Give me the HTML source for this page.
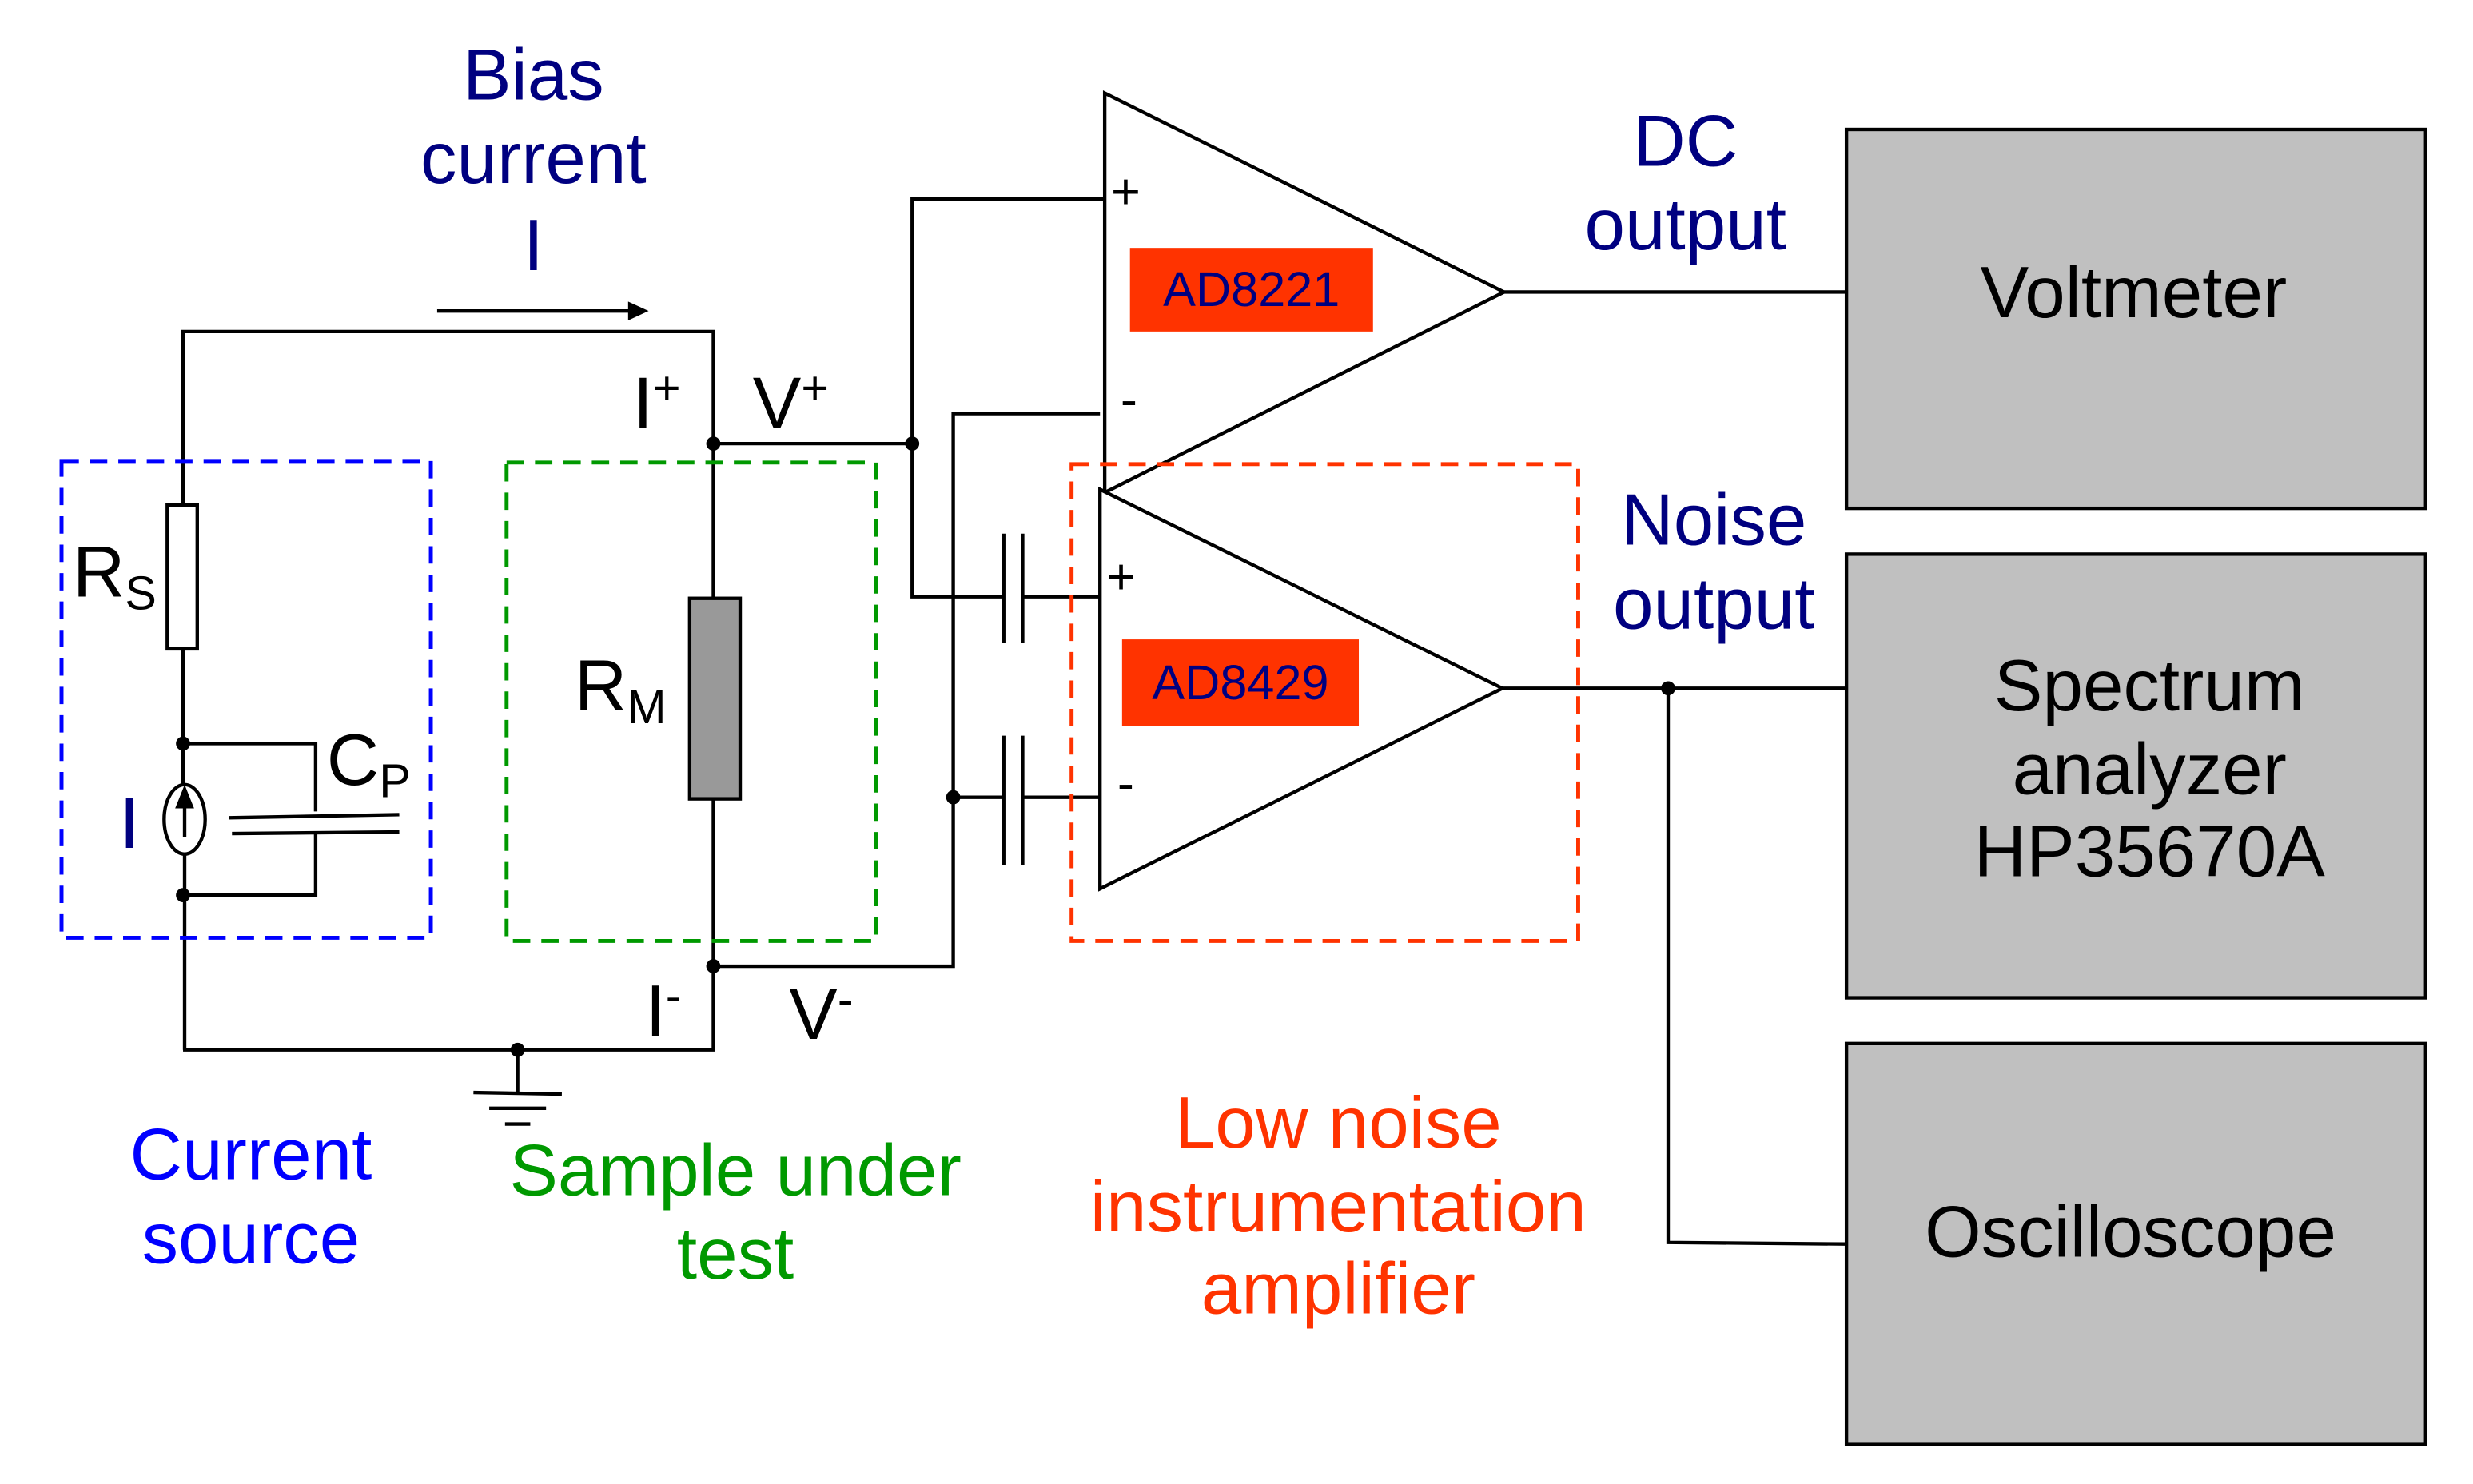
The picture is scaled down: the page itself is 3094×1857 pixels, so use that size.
<!DOCTYPE html>
<html><head><meta charset="utf-8"><style>
html,body{margin:0;padding:0;background:#fff;}
svg{display:block;}
text{font-family:"Liberation Sans",sans-serif;}
</style></head><body>
<svg width="3094" height="1857" viewBox="0 0 1567 940" preserveAspectRatio="none" xmlns="http://www.w3.org/2000/svg">
<g fill="none" stroke="#000" stroke-width="2.2">
<line x1="277" y1="197" x2="400" y2="197"/>
<polyline points="116,320 116,210 452,210 452,379"/>
<rect x="106" y="320" width="19" height="91" fill="#fff"/>
<line x1="116" y1="411" x2="116" y2="497"/>
<ellipse cx="117" cy="519" rx="13" ry="22"/>
<line x1="117" y1="541" x2="117" y2="665"/>
<line x1="117" y1="530" x2="117" y2="504"/>
<polyline points="116,471 200,471 200,514"/>
<line x1="145" y1="518" x2="253" y2="516"/>
<line x1="147" y1="528" x2="253" y2="527"/>
<polyline points="200,528 200,567 116,567"/>
<polyline points="116,665 452,665 452,506"/>
<rect x="437" y="379" width="32" height="127" fill="#999"/>
<line x1="328" y1="665" x2="328" y2="692"/>
<line x1="300" y1="692" x2="356" y2="693"/>
<line x1="310" y1="702" x2="346" y2="702"/>
<line x1="320" y1="712" x2="336" y2="712"/>
<polyline points="452,281 578,281"/>
<polyline points="700,126 578,126 578,378 636,378"/>
<line x1="636" y1="338" x2="636" y2="407"/>
<line x1="648" y1="338" x2="648" y2="407"/>
<line x1="648" y1="378" x2="697" y2="378"/>
<polyline points="452,612 604,612 604,262 697,262"/>
<line x1="604" y1="505" x2="636" y2="505"/>
<line x1="636" y1="466" x2="636" y2="548"/>
<line x1="648" y1="466" x2="648" y2="548"/>
<line x1="648" y1="505" x2="697" y2="505"/>
<polygon points="700,59 700,312 953,185" fill="#fff"/>
<polygon points="697,310 697,563 952,436" fill="#fff"/>
<line x1="953" y1="185" x2="1170" y2="185"/>
<line x1="952" y1="436" x2="1170" y2="436"/>
<polyline points="1057,436 1057,787 1170,788"/>
</g>
<polygon points="398,191 411,197 398,203" fill="#000"/>
<polygon points="111,512 117,497 123,512" fill="#000"/>
<g fill="#000">
<circle cx="116" cy="471" r="4.5"/><circle cx="116" cy="567" r="4.5"/>
<circle cx="328" cy="665" r="4.5"/><circle cx="452" cy="281" r="4.5"/>
<circle cx="578" cy="281" r="4.5"/><circle cx="452" cy="612" r="4.5"/>
<circle cx="604" cy="505" r="4.5"/><circle cx="1057" cy="436" r="4.5"/>
</g>
<rect x="39" y="292" width="234" height="302" fill="none" stroke="#0000ff" stroke-width="2.5" stroke-dasharray="11,7"/>
<rect x="321" y="293" width="234" height="303" fill="none" stroke="#009900" stroke-width="2.5" stroke-dasharray="11,7"/>
<rect x="679" y="294" width="321" height="302" fill="none" stroke="#ff3300" stroke-width="2.5" stroke-dasharray="11,7"/>
<rect x="716" y="157" width="154" height="53" fill="#ff3300"/>
<rect x="711" y="405" width="150" height="55" fill="#ff3300"/>
<text x="793" y="194" font-size="31" fill="#000080" text-anchor="middle">AD8221</text>
<text x="786" y="443" font-size="31" fill="#000080" text-anchor="middle">AD8429</text>
<text x="704" y="132" font-size="32">+</text>
<text x="710" y="264" font-size="32">-</text>
<text x="701" y="376" font-size="32">+</text>
<text x="708" y="507" font-size="32">-</text>
<g fill="#c0c0c0" stroke="#000" stroke-width="2.2">
<rect x="1170" y="82" width="367" height="240"/>
<rect x="1170" y="351" width="367" height="281"/>
<rect x="1170" y="661" width="367" height="254"/>
</g>
<g font-size="46" text-anchor="middle" fill="#000">
<text x="1352" y="201">Voltmeter</text>
<text x="1362" y="450">Spectrum</text>
<text x="1362" y="503">analyzer</text>
<text x="1362" y="555">HP35670A</text>
<text x="1350" y="796">Oscilloscope</text>
</g>
<g font-size="46" text-anchor="middle" fill="#000080">
<text x="338" y="63">Bias</text>
<text x="338" y="116">current</text>
<text x="338" y="171">I</text>
<text x="1068" y="105">DC</text>
<text x="1068" y="158">output</text>
<text x="1086" y="345">Noise</text>
<text x="1086" y="398">output</text>
<text x="82" y="537">I</text>
</g>
<g font-size="46" text-anchor="middle" fill="#0000ff">
<text x="159" y="747">Current</text>
<text x="159" y="800">source</text>
</g>
<g font-size="46" text-anchor="middle" fill="#009900">
<text x="466" y="757">Sample under</text>
<text x="466" y="810">test</text>
</g>
<g font-size="46" text-anchor="middle" fill="#ff3300">
<text x="848" y="727">Low noise</text>
<text x="848" y="780">instrumentation</text>
<text x="848" y="832">amplifier</text>
</g>
<g font-size="46" fill="#000">
<text x="46" y="378">R<tspan font-size="30" dy="8">S</tspan></text>
<text x="207" y="497">C<tspan font-size="30" dy="8">P</tspan></text>
<text x="364" y="450">R<tspan font-size="30" dy="8">M</tspan></text>
<text x="401" y="271">I<tspan font-size="30" dy="-15">+</tspan></text>
<text x="477" y="271">V<tspan font-size="30" dy="-15">+</tspan></text>
<text x="409" y="656">I<tspan font-size="30" dy="-15">-</tspan></text>
<text x="500" y="658">V<tspan font-size="30" dy="-15">-</tspan></text>
</g>
</svg>
</body></html>
